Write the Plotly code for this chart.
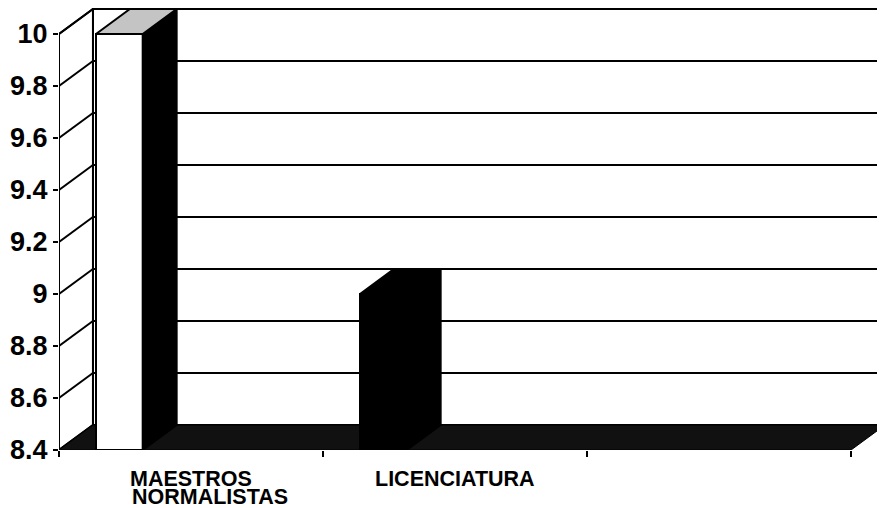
import plotly.graph_objects as go

# ---- data ----
categories = ["MAESTROS\nNORMALISTAS", "LICENCIATURA", ""]
values = [10, 9, None]
y_ticks = [8.4, 8.6, 8.8, 9.0, 9.2, 9.4, 9.6, 9.8, 10.0]

# ---- style / geometry (not data) ----
Y_MIN, Y_MAX = 8.4, 10.0
DX, DY = 0.1286, 0.0959          # 3-D depth offset in data units
BAR_OFF, BAR_W = 0.14, 0.177     # bar front face position inside category
front_colors = ["white", "black", "black"]
side_colors = ["black", "black", "black"]
top_colors = ["#c4c4c4", "black", "black"]
FLOOR = "#111111"
LINE = dict(color="black", width=2)
n = len(categories)

fig = go.Figure()
shapes = []

# back wall
shapes.append(dict(type="rect", xref="x", yref="y", x0=DX, x1=n + DX,
                   y0=Y_MIN + DY, y1=Y_MAX + DY, fillcolor="white",
                   line=LINE, layer="below"))
# back wall gridlines
for v in y_ticks[1:-1]:
    shapes.append(dict(type="line", xref="x", yref="y", x0=DX, x1=n + DX,
                       y0=v + DY, y1=v + DY, line=LINE, layer="below"))
# left wall
shapes.append(dict(type="path", xref="x", yref="y",
                   path=f"M0,{Y_MIN} L{DX},{Y_MIN+DY} L{DX},{Y_MAX+DY} L0,{Y_MAX} Z",
                   fillcolor="white", line=LINE, layer="below"))
for v in y_ticks:
    shapes.append(dict(type="line", xref="x", yref="y", x0=0, x1=DX,
                       y0=v, y1=v + DY, line=LINE, layer="below"))
# floor
shapes.append(dict(type="path", xref="x", yref="y",
                   path=f"M0,{Y_MIN} L{n},{Y_MIN} L{n+DX},{Y_MIN+DY} L{DX},{Y_MIN+DY} Z",
                   fillcolor=FLOOR, line=dict(color="black", width=1), layer="below"))

# bar front faces
bx, by, bc = [], [], []
for i, v in enumerate(values):
    if v is None:
        continue
    bx.append(i + BAR_OFF + BAR_W / 2)
    by.append(v - Y_MIN)
    bc.append(front_colors[i])
fig.add_trace(go.Bar(x=bx, y=by, base=Y_MIN, width=BAR_W,
                     marker=dict(color=bc, line=dict(color="black", width=2)),
                     hoverinfo="skip", showlegend=False))

# bar side and top faces
for i, v in enumerate(values):
    if v is None:
        continue
    x0 = i + BAR_OFF
    x1 = x0 + BAR_W
    fig.add_trace(go.Scatter(
        x=[x1, x1 + DX, x1 + DX, x1, x1], y=[Y_MIN, Y_MIN + DY, v + DY, v, Y_MIN],
        mode="lines", fill="toself", fillcolor=side_colors[i],
        line=dict(color="black", width=2), hoverinfo="skip", showlegend=False))
    fig.add_trace(go.Scatter(
        x=[x0, x1, x1 + DX, x0 + DX, x0], y=[v, v, v + DY, v + DY, v],
        mode="lines", fill="toself", fillcolor=top_colors[i],
        line=dict(color="black", width=2), hoverinfo="skip", showlegend=False))

# category labels (one annotation per line, tight line spacing)
W = {"A": .722, "B": .722, "C": .722, "D": .722, "E": .667, "F": .611, "G": .778,
     "H": .722, "I": .278, "J": .556, "K": .722, "L": .611, "M": .833, "N": .722,
     "O": .778, "P": .667, "Q": .778, "R": .722, "S": .667, "T": .611, "U": .722,
     "V": .667, "W": .944, "X": .667, "Y": .667, "Z": .611, " ": .278}
LAB_SIZE = 21.5
annotations = []
for i, lab in enumerate(categories):
    if not lab:
        continue
    lines = lab.split("\n")
    w0 = sum(W.get(c, .6) for c in lines[0]) * LAB_SIZE
    for j, line in enumerate(lines):
        annotations.append(dict(
            x=i + 0.5, y=Y_MIN, xref="x", yref="y", text=line, showarrow=False,
            xanchor="center" if j == 0 else "left",
            xshift=0 if j == 0 else -w0 / 2,
            yanchor="top", yshift=-15 - 18 * j,
            font=dict(family="Liberation Sans, Arial", size=LAB_SIZE,
                      color="black", weight="bold")))

# page body has an 8px margin, so the figure is 8px smaller than the window
fig.update_layout(
    width=877, height=500,
    margin=dict(l=51, r=0, t=0, b=58),
    paper_bgcolor="white", plot_bgcolor="white",
    shapes=shapes, annotations=annotations, bargap=0,
    xaxis=dict(range=[0, n + DX], showgrid=False, zeroline=False, showline=False,
               tickvals=list(range(n + 1)), ticktext=[""] * (n + 1),
               ticks="outside", ticklen=6, tickwidth=2, tickcolor="black"),
    yaxis=dict(range=[Y_MIN, Y_MAX + DY + 0.004], showgrid=False, zeroline=False,
               showline=False, tickvals=y_ticks,
               ticktext=[f"{t:g}" for t in y_ticks],
               ticks="outside", ticklen=5, tickwidth=2, tickcolor="black",
               tickfont=dict(family="Liberation Sans, Arial", size=27,
                             color="black", weight="bold")),
)

fig.write_html("out.html")
